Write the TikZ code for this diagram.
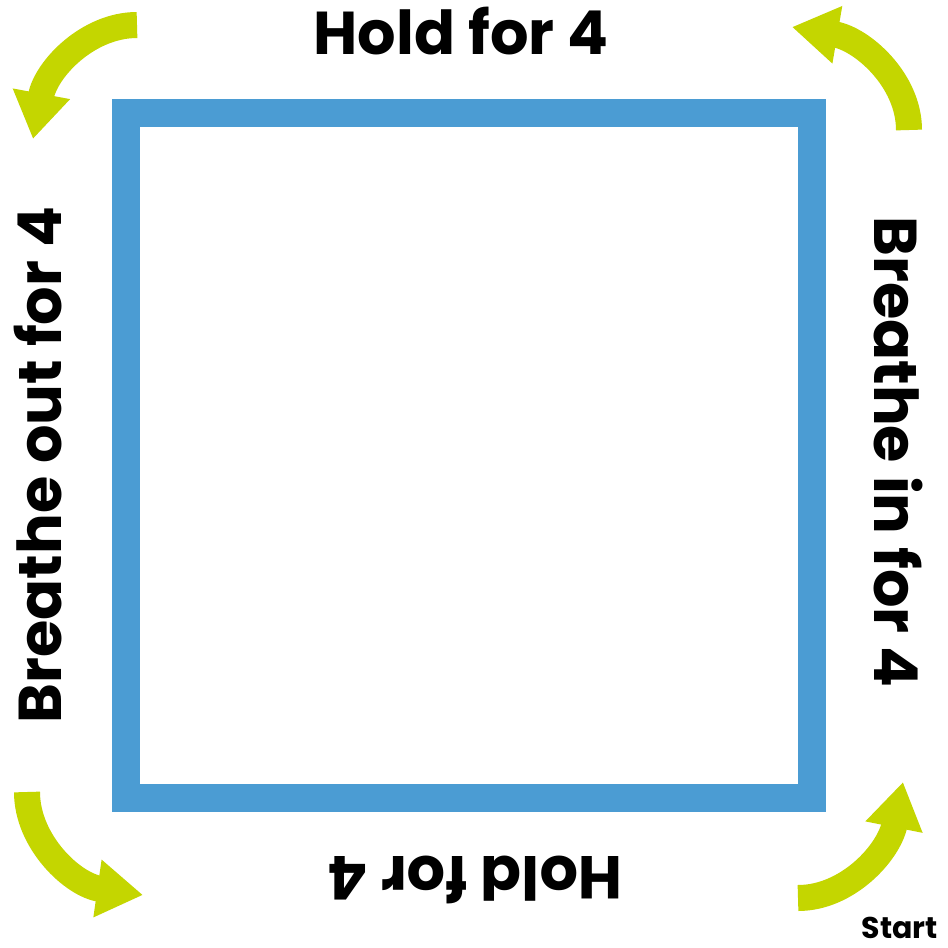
\documentclass[tikz,border=0pt]{standalone}
\usepackage{fontspec}
\newfontfamily\pop{Poppins}
\usetikzlibrary{arrows.meta}
\definecolor{sqblue}{HTML}{4B9CD3}
\definecolor{arrgreen}{HTML}{C4D600}
\tikzset{
  curvearrow/.style={draw=arrgreen, line width=26pt, line cap=butt,
    -{Triangle[width=55pt,length=46pt]}, fill=none},
  bigtext/.style={font=\pop\bfseries\fontsize{60.5}{60.5}\selectfont, inner sep=0pt, anchor=base},
  smalltext/.style={font=\pop\bfseries\fontsize{30}{30}\selectfont, inner sep=0pt, text depth=0pt, anchor=base east}
}
\begin{document}
\begin{tikzpicture}[x=1pt,y=-1pt]
\useasboundingbox (0,0) rectangle (948,948);
\fill[white] (0,0) rectangle (948,948);
% square
\draw[sqblue, line width=28pt] (126,113) rectangle (811.5,798);
% texts
\node[bigtext] (top) at (461,54) {Hold for 4};
\node[bigtext, rotate=180] (bottom) at (475,856) {Hold for 4};
\node[bigtext, rotate=-90] (right) at (874,452) {Breathe in for 4};
\node[bigtext, rotate=90] (left) at (61,465) {Breathe out for 4};
\node[smalltext] (start) at (938,938) {Start};
% arrows
\coordinate (tlA) at (137,25); \coordinate (tlB) at (33,139);
\draw[curvearrow] (tlA) .. controls (88,25) and (46,69) .. (tlB);
\coordinate (trA) at (909,130); \coordinate (trB) at (792,27);
\draw[curvearrow] (trA) .. controls (909,80) and (862,39) .. (trB);
\coordinate (blA) at (27,792); \coordinate (blB) at (143,895);
\draw[curvearrow] (blA) .. controls (27,842) and (73,885) .. (blB);
\coordinate (brA) at (798,898); \coordinate (brB) at (903,782);
\draw[curvearrow] (brA) .. controls (848,898) and (889,852) .. (brB);
\end{tikzpicture}
\end{document}
